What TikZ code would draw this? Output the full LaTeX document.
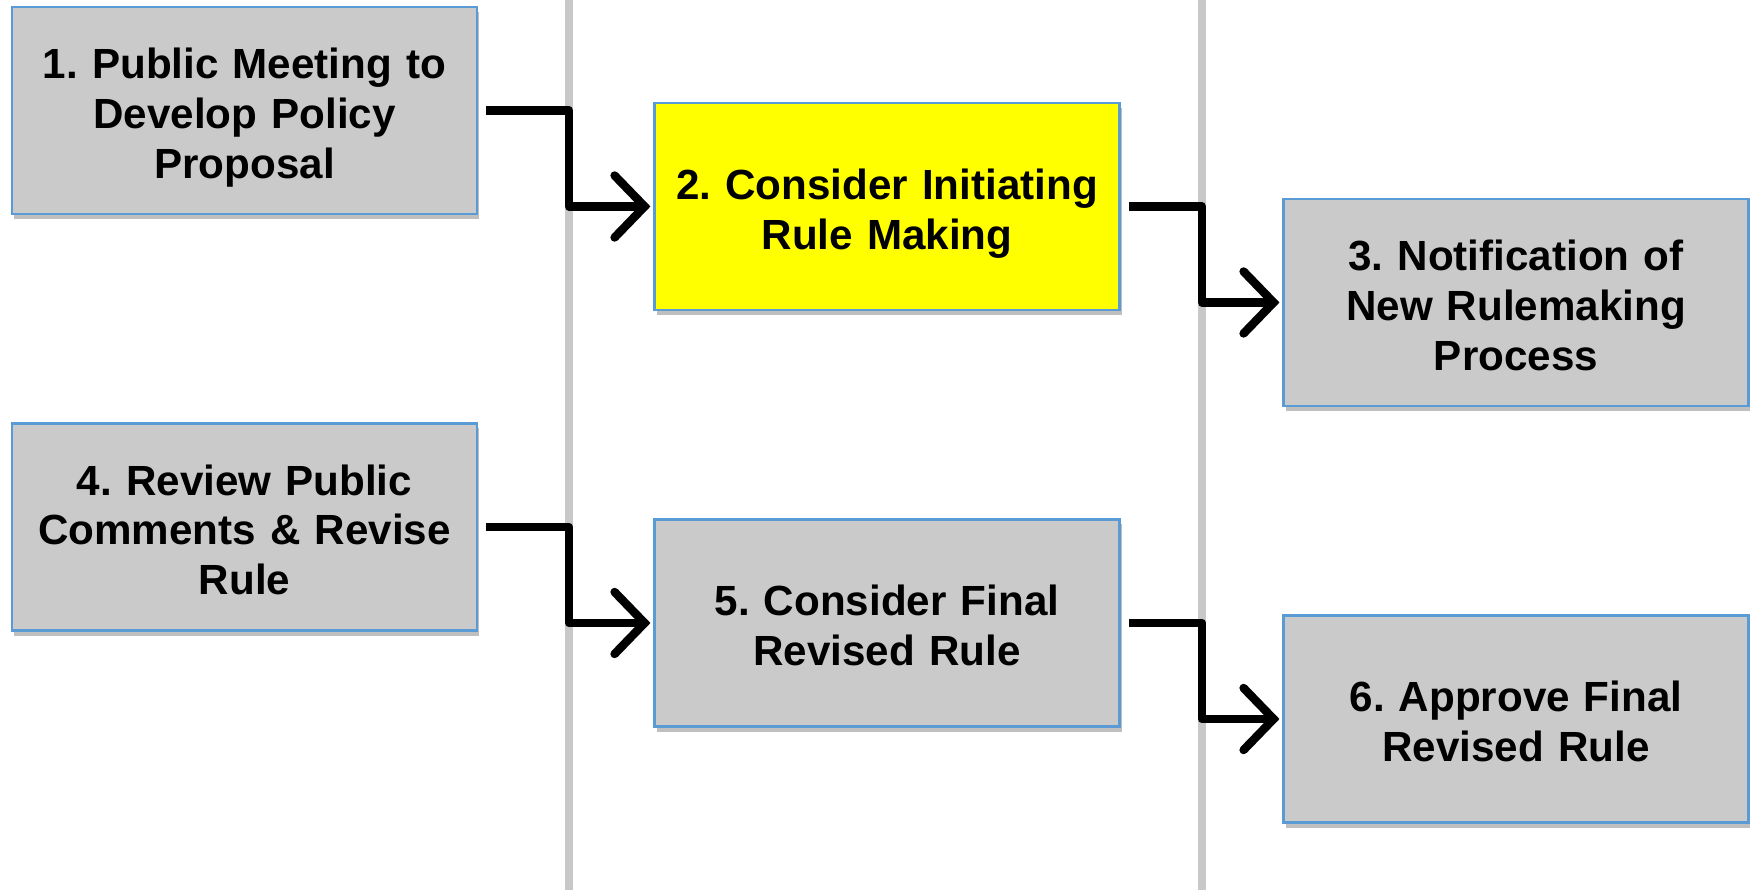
\documentclass[tikz,border=0pt]{standalone}
\usepackage{fontspec}
\setmainfont{Liberation Sans}
\frenchspacing
\usepackage{tikz}
\usetikzlibrary{positioning,arrows.meta,shadows}
\definecolor{boxgray}{HTML}{CACACA}
\definecolor{boxblue}{HTML}{5B9BD5}
\definecolor{divgray}{HTML}{C8C8C8}
\definecolor{hiyellow}{HTML}{FFFF00}

\begin{document}
\begin{tikzpicture}[
    box/.style={rectangle, draw=boxblue, line width=0.6pt, fill=boxgray, text width=4.4cm, align=center,
        minimum width=4.65cm, minimum height=2.07cm, inner sep=0pt,
        font=\fontsize{12}{14.2}\selectfont\bfseries,
        execute at begin node={\rule{0pt}{12.8pt}},
        execute at end node={\rule[-2.6pt]{0pt}{2.6pt}},
        drop shadow={shadow xshift=0.02cm, shadow yshift=-0.05cm, fill=black, opacity=0.25}},
    arrow/.style={-{Straight Barb[length=0.3cm, width=0.62cm, line cap=round]}, line width=2.4pt, line join=round},
    divider/.style={draw=divgray, line width=0.08cm}
]
\useasboundingbox (0,0) rectangle (17.5,-8.9);
\fill[white] (0,0) rectangle (17.5,-8.9);

% lane dividers
\coordinate (laneA) at (5.69,0);
\coordinate (laneB) at (12.02,0);
\draw[divider] (laneA) -- ++(0,-8.9);
\draw[divider] (laneB) -- ++(0,-8.9);

\node[box] (meeting) at (2.445,-1.105) {1. Public Meeting to\\Develop Policy\\Proposal};
\node[box, fill=hiyellow] (initiate) at (8.87,-2.065) {2. Consider Initiating\\Rule Making};
\node[box] (notify) at (15.16,-3.025) {3. Notification of\\New Rulemaking\\Process};
\node[box] (review) at (2.445,-5.27) {4. Review Public\\Comments \& Revise\\Rule};
\node[box] (final) at (8.87,-6.23) {5. Consider Final\\Revised Rule};
\node[box] (approve) at (15.16,-7.19) {6. Approve Final\\Revised Rule};

\draw[arrow] ([xshift=0.08cm]meeting.east) -- (laneA |- meeting.east) |- ([xshift=-0.03cm]initiate.west);
\draw[arrow] ([xshift=0.08cm]initiate.east) -- (laneB |- initiate.east) |- ([xshift=-0.03cm]notify.west);
\draw[arrow] ([xshift=0.08cm]review.east) -- (laneA |- review.east) |- ([xshift=-0.03cm]final.west);
\draw[arrow] ([xshift=0.08cm]final.east) -- (laneB |- final.east) |- ([xshift=-0.03cm]approve.west);
\end{tikzpicture}
\end{document}
